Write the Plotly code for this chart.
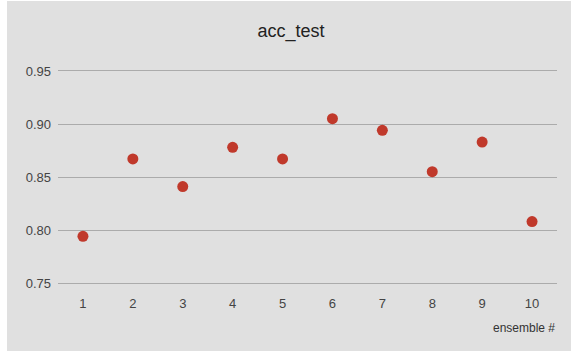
import plotly.graph_objects as go

ensemble = [1, 2, 3, 4, 5, 6, 7, 8, 9, 10]
acc_test = [0.794, 0.867, 0.841, 0.878, 0.867, 0.905, 0.894, 0.855, 0.883, 0.808]
y_ticks = [0.75, 0.80, 0.85, 0.90, 0.95]

W, H = 571, 351
L, R, T, B = 58, 557, 71, 283
BG = "#e0e0e0"
GRID = "#ababab"
FONT = "Liberation Sans, Arial, sans-serif"

fig = go.Figure()
fig.add_trace(go.Scatter(
    x=ensemble, y=acc_test, mode="markers",
    marker=dict(size=11, color="#c0392b", line=dict(width=0)),
    cliponaxis=False, hoverinfo="x+y",
))

pw, ph = R - L, B - T
fig.add_shape(type="rect", xref="paper", yref="paper", layer="below",
              x0=(7 - L) / pw, x1=(W - L) / pw,
              y0=(B - H) / ph, y1=(B - 1) / ph,
              fillcolor=BG, line=dict(width=0))

fig.add_annotation(text="ensemble #", xref="paper", yref="paper",
                   x=1, y=(B - 328) / ph, xanchor="right", yanchor="middle",
                   showarrow=False, font=dict(family=FONT, size=12, color="#333333"))

fig.update_layout(
    width=W, height=H,
    margin=dict(l=L, r=W - R, t=T, b=H - B, pad=0),
    paper_bgcolor="white", plot_bgcolor=BG,
    showlegend=False,
    title=dict(text="acc_test", xref="container", yref="container",
               x=291 / W, y=1 - 31 / H, xanchor="center", yanchor="middle",
               font=dict(family=FONT, size=18, color="#222222")),
    font=dict(family=FONT, size=13, color="#444444"),
)
fig.update_xaxes(range=[0.5, 10.5], tickmode="array", tickvals=ensemble,
                 ticktext=[str(v) for v in ensemble], showgrid=False,
                 zeroline=False, showline=True, mirror=True, linecolor=GRID,
                 linewidth=1, ticks="", ticklabelstandoff=8,
                 tickfont=dict(family=FONT, size=13, color="#444444"))
fig.update_yaxes(range=[0.75, 0.95], tickmode="array", tickvals=y_ticks,
                 ticktext=[f"{v:.2f}" for v in y_ticks], showgrid=True,
                 gridcolor=GRID, gridwidth=1, zeroline=False, showline=False,
                 ticks="", ticklabelstandoff=6,
                 tickfont=dict(family=FONT, size=13, color="#444444"))

fig.write_html("out.html", config={"displayModeBar": False},
               post_script="document.body.style.margin='0';")
